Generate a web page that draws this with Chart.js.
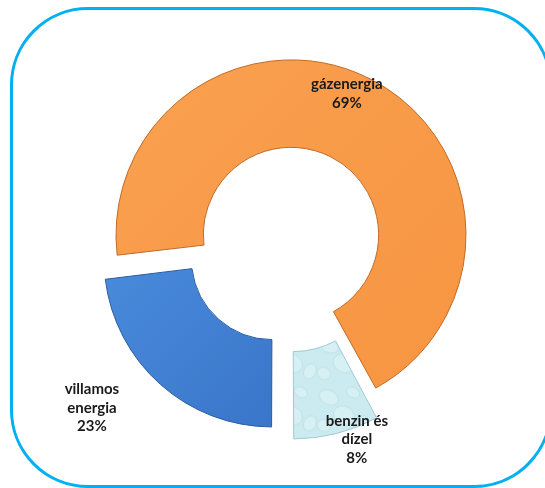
<!DOCTYPE html>
<html>
<head>
<meta charset="utf-8">
<script src="https://cdn.jsdelivr.net/npm/chart.js@4"></script>
<style>
html,body{margin:0;padding:0;background:#fff;overflow:hidden}
#wrap{position:relative;width:545px;height:488px;overflow:hidden}
#frame{position:absolute;left:10px;top:7px;width:536px;height:475px;border:3px solid #00B0F0;border-radius:78px}
#c{position:absolute;left:0;top:0}
</style>
</head>
<body>
<div id="wrap"><div id="frame"></div><canvas id="c" width="545" height="488"></canvas></div>
<script>
// categories in clockwise order, starting from the left end of the ring
const categories=[['gázenergia'],['benzin és','dízel'],['villamos','energia']];
const shares=[69,8,23];
const baseColors=['#F89C4C','#C8EAF0','#3D7ED2'];
const edgeColors=['#C06A28','#9CCAD5','#2A5CA3'];
const explode=[28,80,94];
// label anchors: angle clockwise from top (deg), distance as share of outer radius
const labelAnchor=[{a:21.8,f:0.947},{a:160.8,f:1.25},{a:229.6,f:1.531}];

let waterPat=null;
function waterPattern(ctx){
  if(waterPat)return waterPat;
  const p=document.createElement('canvas');p.width=52;p.height=52;
  const g=p.getContext('2d');
  g.fillStyle='#CBEBF1';g.fillRect(0,0,52,52);
  const blobs=[[12,14,10,7],[36,9,7,5],[27,32,11,9],[7,42,7,6],[45,40,6,8]];
  blobs.forEach(([x,y,rx,ry])=>{
    g.beginPath();g.ellipse(x,y,rx,ry,0.5,0,Math.PI*2);
    g.fillStyle='rgba(232,247,250,0.4)';g.fill();
    g.strokeStyle='rgba(160,205,216,0.35)';g.lineWidth=1;g.stroke();
  });
  waterPat=ctx.createPattern(p,'repeat');
  return waterPat;
}

function sliceFill(c){
  const chart=c.chart,ctx=chart.ctx,i=c.dataIndex,a=chart.chartArea;
  if(!a)return baseColors[i];
  if(i===1)return waterPattern(ctx);
  const g=ctx.createLinearGradient(a.left,a.top,a.right,a.bottom);
  if(i===0){g.addColorStop(0,'#F9A252');g.addColorStop(1,'#F7933F');}
  else{g.addColorStop(0.3,'#4A8BDC');g.addColorStop(0.8,'#3570C4');}
  return g;
}

const labelPlugin={
  id:'sliceLabels',
  afterDatasetsDraw(chart){
    const meta=chart.getDatasetMeta(0),ctx=chart.ctx;
    const arc0=meta.data[0],R=arc0.outerRadius;
    ctx.save();
    ctx.font='bold 15px Lato, "Open Sans", sans-serif';
    ctx.fillStyle='#1A1A1A';ctx.textAlign='center';ctx.textBaseline='middle';
    categories.forEach((name,i)=>{
      const an=labelAnchor[i],rad=an.a*Math.PI/180;
      const x=arc0.x+Math.sin(rad)*an.f*R,y=arc0.y-Math.cos(rad)*an.f*R;
      const lines=[...name,shares[i]+'%'],lh=18.5;
      lines.forEach((t,k)=>ctx.fillText(t,x,y+(k-(lines.length-1)/2)*lh));
    });
    ctx.restore();
  }
};

new Chart(document.getElementById('c'),{
  type:'doughnut',
  data:{labels:categories,datasets:[{data:shares,backgroundColor:sliceFill,borderColor:edgeColors,borderWidth:1,offset:explode,hoverOffset:0}]},
  options:{
    responsive:false,animation:false,
    rotation:263,cutout:'48%',
    layout:{padding:{left:72.3,right:41.7,top:25.7,bottom:31.3}},
    plugins:{legend:{display:false},tooltip:{enabled:false}}
  },
  plugins:[labelPlugin]
});
</script>
</body>
</html>
